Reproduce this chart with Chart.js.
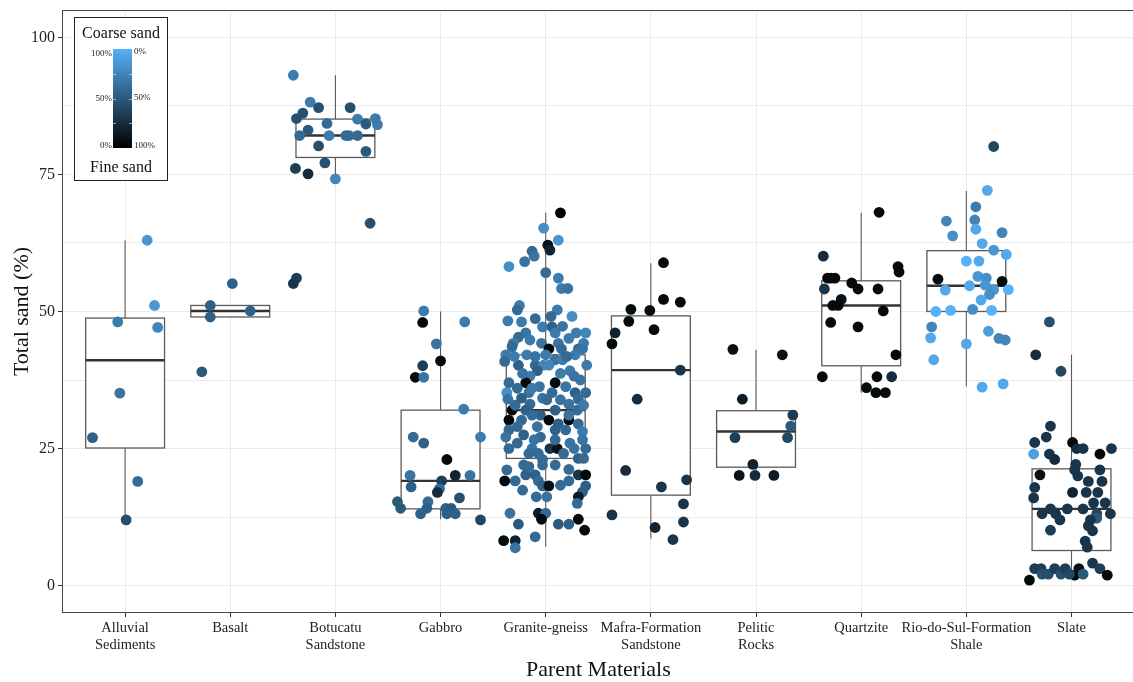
<!DOCTYPE html>
<html>
<head>
<meta charset="utf-8">
<title>Total sand by parent material</title>
<script src="https://cdn.jsdelivr.net/npm/chart.js@4.4.1/dist/chart.umd.min.js"></script>
<style>
  html, body { margin: 0; padding: 0; background: #fff; overflow: hidden; }
  canvas { display: block; }
</style>
</head>
<body>
<canvas id="chart" width="1140" height="682"></canvas>
<script>
// Parent materials (x categories); "\n" splits a label over two lines
const categories = [
  "Alluvial\nSediments", "Basalt", "Botucatu\nSandstone", "Gabbro", "Granite-gneiss",
  "Mafra-Formation\nSandstone", "Pelitic\nRocks", "Quartzite", "Rio-do-Sul-Formation\nShale", "Slate"
];

// Y axis labelled ticks and the minor grid values in between
const yTicks = [0, 25, 50, 75, 100];
const yMinor = [12.5, 37.5, 62.5, 87.5];

// Box statistics per parent material (total sand, %)
const boxLow    = [12.0, 49.0, 74.3, 12.1,  7.1,  8.6, 20.1, 35.2, 36.3,  1.6];
const boxQ1     = [25.1, 49.0, 78.1, 14.0, 23.2, 16.5, 21.6, 40.1, 50.0,  6.4];
const boxMedian = [41.1, 50.1, 82.1, 19.1, 32.0, 39.3, 28.1, 51.1, 54.7, 14.0];
const boxQ3     = [48.8, 51.1, 85.1, 32.0, 42.1, 49.2, 31.9, 55.6, 61.1, 21.3];
const boxHigh   = [63.0, 51.1, 93.1, 50.0, 68.0, 58.8, 43.0, 68.0, 72.0, 42.1];

// Samples: [total sand %, coarse share of sand (0-1), jitter offset in category units]
const alluvialSediments = [
  [63.0,0.85,0.21],[51.1,0.85,0.28],[48.1,0.70,-0.07],[47.1,0.75,0.31],[35.1,0.65,-0.05],
  [27.0,0.55,-0.31],[19.0,0.60,0.12],[12.0,0.45,0.01]
];
const basalt = [
  [55.1,0.55,0.02],[51.1,0.55,-0.19],[49.0,0.55,-0.19],[50.1,0.55,0.19],[39.0,0.50,-0.27]
];
const botucatuSandstone = [
  [93.1,0.70,-0.40],[88.2,0.70,-0.24],[87.2,0.45,-0.16],[86.2,0.45,-0.31],[87.2,0.45,0.14],
  [85.2,0.45,-0.37],[85.1,0.70,0.21],[85.2,0.70,0.38],[84.2,0.50,0.29],[84.1,0.70,0.40],
  [84.3,0.60,-0.08],[83.1,0.50,-0.26],[82.1,0.60,-0.34],[82.1,0.70,-0.06],[82.1,0.60,0.10],
  [82.1,0.60,0.13],[82.1,0.60,0.21],[80.2,0.45,-0.16],[79.2,0.50,0.29],[77.1,0.45,-0.10],
  [76.1,0.35,-0.38],[75.1,0.25,-0.26],[74.2,0.75,0.00],[66.1,0.45,0.33],[56.1,0.35,-0.37],
  [55.1,0.30,-0.40]
];
const gabbro = [
  [50.1,0.70,-0.16],[48.0,0.05,-0.17],[48.1,0.70,0.23],[44.1,0.65,-0.04],[41.0,0.05,0.00],
  [40.1,0.35,-0.17],[38.0,0.05,-0.24],[38.0,0.65,-0.16],[32.2,0.70,0.22],[27.1,0.60,-0.26],
  [26.0,0.55,-0.16],[27.1,0.70,0.38],[23.0,0.05,0.06],[20.1,0.65,-0.29],[20.1,0.20,0.14],
  [20.1,0.65,0.28],[18.0,0.55,-0.28],[19.1,0.35,0.01],[17.7,0.60,-0.01],[17.0,0.25,-0.03],
  [16.0,0.45,0.18],[15.3,0.50,-0.41],[15.3,0.60,-0.12],[14.1,0.50,-0.38],[14.1,0.55,-0.13],
  [14.1,0.55,0.05],[14.1,0.50,0.10],[13.1,0.55,-0.19],[13.1,0.55,0.06],[13.1,0.55,0.14],
  [12.0,0.40,0.38]
];
const graniteGneiss = [
  [68.0,0.00,0.14],[65.2,0.80,-0.02],[63.0,0.85,0.12],[62.1,0.10,0.02],[61.2,0.20,0.04],
  [61.0,0.60,-0.13],[60.1,0.65,-0.11],[59.1,0.65,-0.20],[58.2,0.80,-0.35],[57.1,0.60,0.00],
  [56.1,0.70,0.12],[54.2,0.70,0.15],[54.2,0.65,0.21],[51.1,0.70,-0.25],[50.3,0.60,-0.27],
  [50.3,0.70,0.11],[48.3,0.70,-0.36],[48.1,0.70,-0.23],[49.1,0.60,0.05],[49.1,0.80,0.25],
  [47.2,0.70,-0.03],[47.2,0.55,0.06],[46.1,0.65,-0.19],[46.1,0.70,0.09],[46.1,0.70,0.29],
  [46.1,0.75,0.38],[45.3,0.60,-0.26],[44.2,0.65,-0.04],[44.2,0.70,-0.31],[44.2,0.65,0.12],
  [44.2,0.70,0.36],[43.2,0.05,0.03],[43.2,0.60,0.15],[43.2,0.60,0.31],[43.2,0.65,0.35],
  [42.1,0.70,-0.38],[42.1,0.70,-0.18],[42.1,0.70,0.00],[42.1,0.70,0.28],[41.2,0.65,0.09],
  [41.2,0.70,0.16],[40.9,0.60,-0.39],[40.2,0.60,-0.10],[40.2,0.75,-0.02],[40.2,0.55,-0.26],
  [40.2,0.70,0.39],[40.2,0.75,0.03],[39.2,0.70,0.23],[39.2,0.55,-0.08],[38.2,0.65,0.27],
  [38.2,0.70,-0.15],[37.0,0.05,-0.19],[37.0,0.05,0.09],[37.0,0.60,-0.35],[36.3,0.65,-0.06],
  [36.3,0.65,0.19],[35.2,0.80,-0.37],[35.2,0.65,-0.16],[35.2,0.60,0.06],[35.2,0.55,0.28],
  [35.2,0.60,0.38],[34.2,0.55,-0.23],[34.2,0.65,-0.03],[34.0,0.65,-0.36],[34.0,0.60,0.31],
  [33.1,0.60,-0.15],[33.1,0.65,0.22],[32.0,0.05,-0.32],[32.0,0.55,-0.19],[32.0,0.55,0.09],
  [32.0,0.60,0.30],[31.1,0.55,-0.05],[31.1,0.60,-0.13],[30.2,0.05,-0.35],[30.2,0.05,0.03],
  [30.2,0.05,0.22],[30.2,0.60,-0.23],[29.5,0.55,0.12],[29.5,0.60,0.31],[29.0,0.65,-0.08],
  [28.4,0.60,-0.35],[28.4,0.55,0.09],[28.1,0.70,0.35],[27.5,0.55,-0.21],[27.1,0.65,-0.38],
  [27.1,0.60,-0.05],[26.0,0.60,-0.27],[26.0,0.65,0.23],[25.0,0.30,0.04],[25.0,0.10,0.11],
  [25.0,0.65,-0.13],[25.0,0.65,0.27],[25.0,0.60,0.38],[24.1,0.60,-0.16],[24.1,0.60,0.17],
  [24.1,0.60,-0.07],[23.2,0.55,0.31],[23.2,0.60,0.36],[21.1,0.60,-0.37],[22.0,0.60,-0.21],
  [22.0,0.60,-0.03],[22.0,0.60,0.09],[21.2,0.60,0.22],[19.1,0.05,-0.39],[19.1,0.60,-0.29],
  [20.2,0.55,-0.19],[20.2,0.55,-0.10],[19.1,0.60,-0.07],[19.1,0.60,0.22],[20.2,0.30,0.31],
  [20.2,0.05,0.38],[18.2,0.55,-0.03],[18.2,0.10,0.03],[18.2,0.55,0.38],[17.1,0.55,0.35],
  [16.2,0.15,0.31],[16.2,0.60,-0.09],[16.2,0.65,0.01],[15.0,0.60,0.30],[13.2,0.65,-0.34],
  [13.2,0.15,-0.07],[13.2,0.60,0.00],[11.2,0.50,-0.26],[12.1,0.05,-0.04],[11.2,0.50,0.12],
  [11.2,0.55,0.22],[12.1,0.05,0.31],[10.1,0.05,0.37],[8.9,0.60,-0.10],[8.2,0.05,-0.40],
  [8.2,0.20,-0.29],[6.9,0.65,-0.29],[41.8,0.70,-0.30],[41.8,0.65,-0.10],[41.8,0.60,0.20],
  [38.7,0.65,-0.22],[38.7,0.70,0.14],[37.5,0.65,0.33],[36.0,0.60,-0.27],[36.0,0.70,-0.13],
  [33.9,0.60,0.01],[33.9,0.65,0.14],[32.9,0.60,-0.29],[32.9,0.70,0.36],[31.1,0.65,0.22],
  [29.0,0.60,-0.27],[28.4,0.60,0.19],[26.6,0.65,-0.11],[26.6,0.60,0.09],[26.6,0.65,0.35],
  [25.0,0.60,-0.35],[23.0,0.60,-0.03],[43.6,0.60,-0.32],[44.8,0.70,-0.15],[45.1,0.70,0.22],
  [48.7,0.60,-0.10],[47.3,0.65,0.16],[21.7,0.60,-0.16],[18.3,0.60,0.14],[17.4,0.60,-0.22]
];
const mafraSandstone = [
  [58.9,0.05,0.12],[52.2,0.05,0.12],[51.7,0.05,0.28],[50.4,0.05,-0.19],[50.2,0.05,-0.01],
  [48.2,0.05,-0.21],[46.7,0.05,0.03],[46.1,0.20,-0.34],[44.1,0.05,-0.37],[39.3,0.30,0.28],
  [34.0,0.25,-0.13],[21.0,0.25,-0.24],[19.3,0.30,0.34],[18.0,0.30,0.10],[14.9,0.30,0.31],
  [12.9,0.30,-0.37],[11.6,0.30,0.31],[10.6,0.20,0.04],[8.4,0.30,0.21]
];
const peliticRocks = [
  [43.1,0.10,-0.22],[42.1,0.10,0.25],[34.0,0.15,-0.13],[31.1,0.35,0.35],[29.1,0.50,0.33],
  [27.0,0.35,-0.20],[27.0,0.40,0.30],[22.1,0.20,-0.03],[20.1,0.10,-0.16],[20.1,0.25,-0.01],
  [20.1,0.15,0.17]
];
const quartzite = [
  [68.1,0.05,0.17],[60.1,0.25,-0.36],[58.2,0.05,0.35],[57.2,0.05,0.36],[56.1,0.05,-0.32],
  [56.1,0.05,-0.25],[56.1,0.05,-0.29],[55.2,0.05,-0.09],[54.1,0.30,-0.35],[54.1,0.05,-0.03],
  [54.1,0.05,0.16],[52.2,0.10,-0.19],[51.1,0.05,-0.27],[51.1,0.05,-0.22],[50.1,0.05,0.21],
  [48.0,0.05,-0.29],[47.2,0.05,-0.03],[42.1,0.05,0.33],[38.1,0.05,-0.37],[38.1,0.05,0.15],
  [38.1,0.25,0.29],[36.1,0.05,0.05],[35.2,0.05,0.14],[35.2,0.05,0.23]
];
const rioDoSulShale = [
  [80.1,0.40,0.26],[72.1,0.95,0.20],[69.1,0.70,0.09],[66.5,0.75,-0.19],[66.7,0.75,0.08],
  [65.0,0.95,0.09],[63.8,0.80,-0.13],[64.4,0.75,0.34],[62.4,0.95,0.15],[61.2,0.85,0.26],
  [60.4,0.95,0.38],[59.2,1.00,0.00],[59.2,0.95,0.12],[56.4,0.85,0.11],[56.1,0.80,0.19],
  [55.9,0.05,-0.27],[55.5,0.05,0.34],[54.8,0.85,0.18],[54.7,0.95,0.03],[53.9,0.95,-0.20],
  [54.0,0.85,0.26],[54.0,1.00,0.40],[53.1,0.80,0.22],[52.1,0.95,0.14],[50.0,1.00,-0.29],
  [50.2,1.00,-0.15],[50.4,0.80,0.06],[50.2,1.00,0.24],[47.2,0.75,-0.33],[45.2,0.95,-0.34],
  [46.4,0.90,0.21],[45.1,0.75,0.31],[44.8,0.75,0.37],[44.1,0.95,0.00],[41.2,0.95,-0.31],
  [36.2,0.95,0.15],[36.8,0.95,0.35]
];
const slate = [
  [48.1,0.45,-0.21],[42.1,0.25,-0.34],[39.1,0.40,-0.10],[29.1,0.30,-0.20],[27.1,0.30,-0.24],
  [26.1,0.30,-0.35],[26.1,0.05,0.01],[25.0,0.25,0.05],[25.0,0.30,0.11],[25.0,0.30,0.38],
  [24.0,0.90,-0.36],[24.0,0.30,-0.21],[24.0,0.05,0.27],[23.0,0.25,-0.16],[22.1,0.30,0.04],
  [20.2,0.10,-0.30],[21.1,0.30,0.03],[21.1,0.30,0.27],[20.0,0.30,0.06],[19.0,0.30,0.16],
  [19.0,0.30,0.29],[17.9,0.30,-0.35],[16.0,0.30,-0.36],[17.0,0.20,0.01],[17.0,0.30,0.14],
  [17.0,0.30,0.25],[15.1,0.30,0.21],[15.1,0.30,0.32],[14.0,0.30,-0.20],[14.0,0.30,-0.04],
  [14.0,0.30,0.11],[13.1,0.30,-0.28],[13.1,0.30,-0.15],[13.1,0.30,0.37],[13.1,0.40,0.24],
  [12.3,0.50,0.24],[12.0,0.30,-0.11],[12.0,0.30,0.18],[10.9,0.30,0.16],[10.0,0.30,0.20],
  [10.1,0.35,-0.20],[8.1,0.30,0.13],[7.0,0.30,0.15],[4.1,0.30,0.20],[3.1,0.35,0.27],
  [1.9,0.05,0.34],[1.0,0.05,-0.40],[1.9,0.05,0.03],[3.1,0.10,0.07],[3.1,0.35,-0.35],
  [3.1,0.35,-0.29],[2.1,0.45,-0.28],[2.1,0.45,-0.22],[3.1,0.35,-0.16],[2.1,0.45,-0.10],
  [3.1,0.35,-0.06],[2.1,0.40,-0.02],[2.1,0.50,0.11]
];

const samplesByMaterial = [
  alluvialSediments, basalt, botucatuSandstone, gabbro, graniteGneiss,
  mafraSandstone, peliticRocks, quartzite, rioDoSulShale, slate
];

// Colour scale: fine (black) -> coarse (light blue)
const FINE_RGB = [0, 0, 0];
const COARSE_RGB = [86, 177, 247];
function coarseColour(t) {
  const c = FINE_RGB.map((lo, k) => Math.round(lo + (COARSE_RGB[k] - lo) * t));
  return `rgb(${c[0]},${c[1]},${c[2]})`;
}

const SERIF = "'Liberation Serif', 'Times New Roman', 'DejaVu Serif', serif";
const BOX_HALF_WIDTH = 0.375;

// Box-and-whisker layer, drawn under the jittered points
const boxPlotLayer = {
  id: 'boxPlotLayer',
  beforeDatasetsDraw(chart) {
    const { ctx, scales: { x, y } } = chart;
    ctx.save();
    categories.forEach((_, i) => {
      const cx = x.getPixelForValue(i);
      const left = x.getPixelForValue(i - BOX_HALF_WIDTH);
      const right = x.getPixelForValue(i + BOX_HALF_WIDTH);
      const yLow = y.getPixelForValue(boxLow[i]);
      const yQ1 = y.getPixelForValue(boxQ1[i]);
      const yMed = y.getPixelForValue(boxMedian[i]);
      const yQ3 = y.getPixelForValue(boxQ3[i]);
      const yHigh = y.getPixelForValue(boxHigh[i]);

      ctx.strokeStyle = '#5a5a5a';
      ctx.lineWidth = 1.1;
      ctx.beginPath();
      ctx.moveTo(cx, yQ3); ctx.lineTo(cx, yHigh);
      ctx.moveTo(cx, yQ1); ctx.lineTo(cx, yLow);
      ctx.stroke();

      ctx.fillStyle = '#ffffff';
      ctx.fillRect(left, yQ3, right - left, yQ1 - yQ3);
      ctx.lineWidth = 1.3;
      ctx.strokeRect(left, yQ3, right - left, yQ1 - yQ3);

      ctx.strokeStyle = '#333333';
      ctx.lineWidth = 2.4;
      ctx.beginPath();
      ctx.moveTo(left, yMed); ctx.lineTo(right, yMed);
      ctx.stroke();
    });
    ctx.restore();
  }
};

// Panel frame and the colour-bar legend
const frameAndKey = {
  id: 'frameAndKey',
  afterDatasetsDraw(chart) {
    const { ctx, chartArea: a } = chart;
    ctx.save();
    ctx.strokeStyle = '#444';
    ctx.lineWidth = 1;
    ctx.strokeRect(a.left + 0.5, a.top + 0.5, a.right - a.left - 1, a.bottom - a.top - 1);

    // key box
    const kx = 74.5, ky = 17.5, kw = 93, kh = 163;
    ctx.fillStyle = '#fff';
    ctx.fillRect(kx, ky, kw, kh);
    ctx.strokeStyle = '#222';
    ctx.strokeRect(kx, ky, kw, kh);

    ctx.fillStyle = '#111';
    ctx.font = `16px ${SERIF}`;
    ctx.textAlign = 'center';
    ctx.textBaseline = 'middle';
    ctx.fillText('Coarse sand', kx + kw / 2, 34);
    ctx.fillText('Fine sand', kx + kw / 2, 168);

    const bx = 113, by = 49, bw = 19, bh = 99;
    const grad = ctx.createLinearGradient(0, by + bh, 0, by);
    for (let s = 0; s <= 10; s++) grad.addColorStop(s / 10, coarseColour(s / 10));
    ctx.fillStyle = grad;
    ctx.fillRect(bx, by, bw, bh);

    ctx.strokeStyle = 'rgba(255,255,255,0.55)';
    ctx.lineWidth = 1;
    [0.25, 0.5, 0.75].forEach(f => {
      const ty = Math.round(by + bh * f) + 0.5;
      ctx.beginPath();
      ctx.moveTo(bx, ty); ctx.lineTo(bx + 3, ty);
      ctx.moveTo(bx + bw - 3, ty); ctx.lineTo(bx + bw, ty);
      ctx.stroke();
    });

    ctx.fillStyle = '#222';
    ctx.font = `9px ${SERIF}`;
    ctx.textAlign = 'right';
    ctx.fillText('100%', bx - 1, by + 5);
    ctx.fillText('50%', bx - 1, by + bh / 2);
    ctx.fillText('0%', bx - 1, by + bh - 2);
    ctx.textAlign = 'left';
    ctx.fillText('0%', bx + bw + 2, by + 3);
    ctx.fillText('50%', bx + bw + 2, by + bh / 2 - 1);
    ctx.fillText('100%', bx + bw + 2, by + bh - 2);
    ctx.restore();
  }
};

const datasets = samplesByMaterial.map((rows, i) => ({
  label: categories[i].replace('\n', ' '),
  data: rows.map(([sand, , jitter]) => ({ x: i + jitter, y: sand })),
  backgroundColor: rows.map(([, coarse]) => coarseColour(coarse)),
  borderWidth: 0,
  pointRadius: 5.4,
  pointHoverRadius: 5.4
}));

new Chart(document.getElementById('chart'), {
  type: 'scatter',
  data: { datasets },
  options: {
    responsive: false,
    animation: false,
    events: [],
    layout: { padding: { top: 10, right: 4, bottom: 0, left: 0 } },
    plugins: { legend: { display: false }, tooltip: { enabled: false } },
    scales: {
      x: {
        type: 'linear',
        min: -0.6,
        max: 9.6,
        bounds: 'data',
        afterBuildTicks: s => { s.ticks = categories.map((_, i) => ({ value: i })); },
        afterFit: s => { s.height = 69; s.paddingLeft = 0; s.paddingRight = 0; },
        ticks: {
          autoSkip: false,
          maxRotation: 0,
          minRotation: 0,
          padding: 3,
          color: '#222',
          font: { family: SERIF, size: 14.5, lineHeight: 1.15 },
          callback: v => categories[v] ? categories[v].split('\n') : ''
        },
        grid: { color: '#ebebeb', lineWidth: 1, tickLength: 4, tickColor: '#333', drawTicks: true },
        border: { display: false },
        title: {
          display: true,
          text: 'Parent Materials',
          color: '#111',
          font: { family: SERIF, size: 22, lineHeight: 1.05 },
          padding: { top: 0, bottom: 0 }
        }
      },
      y: {
        type: 'linear',
        min: -5,
        max: 105,
        bounds: 'data',
        afterBuildTicks: s => {
          s.ticks = [...yTicks, ...yMinor].sort((p, q) => p - q).map(v => ({ value: v }));
        },
        afterFit: s => { s.width = 62; s.paddingTop = 0; s.paddingBottom = 0; },
        ticks: {
          padding: 3,
          color: '#222',
          font: { family: SERIF, size: 16 },
          callback: v => (yTicks.includes(v) ? String(v) : '')
        },
        grid: {
          color: '#ebebeb',
          lineWidth: 1,
          tickLength: 4,
          drawTicks: true,
          tickColor: c => (yTicks.includes(c.tick && c.tick.value) ? '#333' : 'rgba(0,0,0,0)')
        },
        border: { display: false },
        title: {
          display: true,
          text: 'Total sand (%)',
          color: '#111',
          font: { family: SERIF, size: 22 },
          padding: { top: 9, bottom: 0 }
        }
      }
    }
  },
  plugins: [boxPlotLayer, frameAndKey]
});
</script>
</body>
</html>
